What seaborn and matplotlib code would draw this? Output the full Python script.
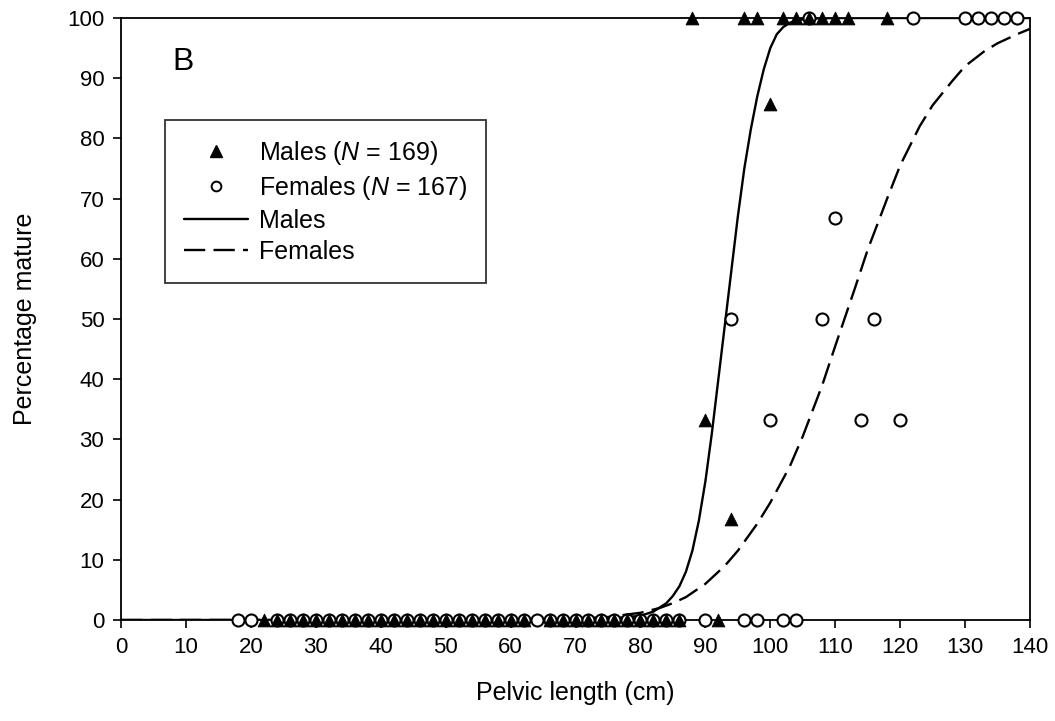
import numpy as np
import pandas as pd
import matplotlib
matplotlib.use("Agg")
import matplotlib.pyplot as plt
import seaborn as sns
from matplotlib.lines import Line2D

# ---------------- data ----------------
male_x = [22] + list(range(24, 63, 2)) + list(range(66, 87, 2)) + [92,
          90, 94, 100,
          88, 96, 98, 102, 104, 106, 108, 110, 112, 118]
male_y = [0] * (1 + len(range(24, 63, 2)) + len(range(66, 87, 2))) + [0,
          33.3, 16.7, 85.7,
          100, 100, 100, 100, 100, 100, 100, 100, 100, 100]

female_x = [18, 20] + list(range(24, 63, 2)) + [64] + list(range(66, 87, 2)) + [90, 96, 98, 102, 104,
            94, 108, 116, 110, 100, 114, 120,
            106, 122, 130, 132, 134, 136, 138]
female_y = [0] * (2 + len(range(24, 63, 2)) + 1 + len(range(66, 87, 2))) + [0, 0, 0, 0, 0,
            50, 50, 50, 66.7, 33.3, 33.3, 33.3,
            100, 100, 100, 100, 100, 100, 100]

male_curve_x = [0, 60, 70, 75, 80, 82, 84, 85, 86, 87, 88, 89, 90, 91, 92, 93, 94, 95,
                96, 97, 98, 99, 100, 101, 102, 103, 104, 106, 108, 110, 140]
male_curve_y = [0, 0, 0.05, 0.2, 0.7, 1.4, 2.8, 4.0, 5.6, 8.0, 11.5, 16.5, 23, 31, 40, 49, 58, 67,
                75, 81.5, 87, 91.5, 95, 97.3, 98.5, 99.2, 99.6, 99.9, 99.95, 100, 100]

female_curve_x = [0, 60, 70, 75, 80, 83, 85, 87, 90, 93, 95, 98, 100, 103, 105, 108, 110, 113,
                  115, 118, 120, 123, 125, 128, 130, 133, 135, 138, 140]
female_curve_y = [0, 0.05, 0.2, 0.5, 1.2, 2.0, 2.8, 3.8, 6.0, 9.0, 11.5, 16, 19.5, 25.5, 30.5, 39,
                  45.5, 55, 61.5, 70, 75.5, 82, 85.5, 89.5, 92, 94.5, 95.8, 97.3, 98.2]

x_ticks = list(range(0, 141, 10))
y_ticks = list(range(0, 101, 10))

# ---------------- style ----------------
sns.set_style("ticks")
plt.rcParams['font.family'] = ['Liberation Sans', 'DejaVu Sans']
plt.rcParams['mathtext.fontset'] = 'custom'
plt.rcParams['mathtext.rm'] = 'Liberation Sans'
plt.rcParams['mathtext.it'] = 'Liberation Sans:italic'
plt.rcParams['text.color'] = 'black'
plt.rcParams['axes.labelcolor'] = 'black'

fig = plt.figure(figsize=(10.55, 7.21), dpi=100)
ax = fig.add_axes([121 / 1055, 1 - 620 / 721, (1030 - 121) / 1055, (620 - 18) / 721])

# curves
sns.lineplot(x=male_curve_x, y=male_curve_y, ax=ax, color='black', linewidth=1.7,
             sort=False, estimator=None)
sns.lineplot(x=female_curve_x, y=female_curve_y, ax=ax, color='black', linewidth=1.7,
             sort=False, estimator=None)
lines = ax.get_lines()
lines[1].set_dashes([9, 3.5])

# points
df_f = pd.DataFrame({'x': female_x, 'y': female_y})
df_m = pd.DataFrame({'x': male_x, 'y': male_y})
sns.scatterplot(data=df_f, x='x', y='y', ax=ax, marker='o', s=75, facecolor='white',
                edgecolor='black', linewidth=1.5, clip_on=False, zorder=4)
sns.scatterplot(data=df_m, x='x', y='y', ax=ax, marker='^', s=85, color='black',
                edgecolor='black', linewidth=0.6, clip_on=False, zorder=5)

ax.set_xlim(0, 140)
ax.set_ylim(0, 100)
ax.set_xticks(x_ticks)
ax.set_yticks(y_ticks)
for s in ax.spines.values():
    s.set_visible(True)
    s.set_color('black')
    s.set_linewidth(1.3)
ax.tick_params(axis='both', direction='out', length=6, width=1.2, labelsize=16,
               colors='black', pad=6)
ax.set_xlabel('Pelvic length (cm)', fontsize=18, labelpad=17)
ax.set_ylabel('Percentage mature', fontsize=18, labelpad=22)

ax.text((172 - 121) / 909, (620 - 70) / 602, 'B', transform=ax.transAxes,
        fontsize=23, ha='left', va='baseline')

handles = [
    Line2D([], [], marker='^', color='black', linestyle='none', markersize=8),
    Line2D([], [], marker='o', markerfacecolor='white', markeredgecolor='black',
           linestyle='none', markersize=7, markeredgewidth=1.4),
    Line2D([], [], color='black', linewidth=1.7),
    Line2D([], [], color='black', linewidth=1.7, dashes=[9, 3.5]),
]
labels = [r'Males ($\mathit{N}$ = 169)', r'Females ($\mathit{N}$ = 167)', 'Males', 'Females']
leg = ax.legend(handles, labels, loc='upper left',
                bbox_to_anchor=(165 / 1055, 1 - 120 / 721), bbox_transform=fig.transFigure,
                fontsize=18, frameon=True, fancybox=False, edgecolor='black',
                handlelength=2.55, handletextpad=0.45, labelspacing=0.28,
                borderpad=0.75, borderaxespad=0)
leg.get_frame().set_linewidth(1.3)

fig.savefig('out.png', dpi=100)
